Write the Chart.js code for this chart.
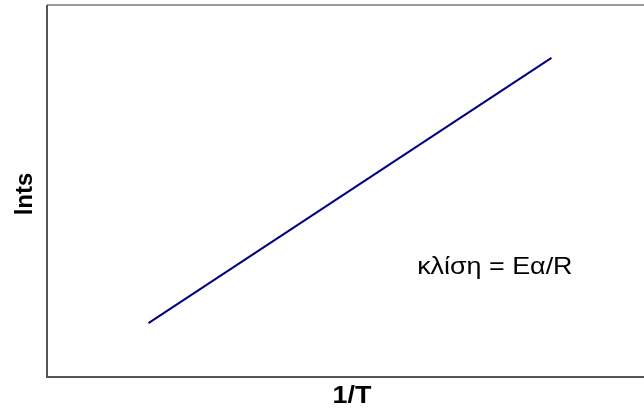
<!DOCTYPE html>
<html>
<head>
<meta charset="utf-8">
<script src="https://cdn.jsdelivr.net/npm/chart.js@4/dist/chart.umd.min.js"></script>
<style>
  html, body { margin: 0; padding: 0; background: #fff; overflow: hidden; }
  #wrap { width: 644px; height: 412px; }
</style>
</head>
<body>
<div id="wrap"><canvas id="chart"></canvas></div>
<script>
// ── Data (arbitrary units) ──
const lineX = [0.17, 0.845];
const lineY = [0.145, 0.858];
const xTitle = '1/T';
const yTitle = 'lnts';
const slopeNote = 'κλίση = Eα/R';

const FONT = 'Liberation Sans, Arial, sans-serif';
const STRETCH = 1.12; // the original text looks a bit wide

// frame + titles + note, drawn on top of the chart area
const framePlugin = {
    id: 'frame',
    afterDraw(chart) {
        const { ctx, chartArea: a } = chart;
        ctx.save();
        // top edge (lighter)
        ctx.strokeStyle = '#999';
        ctx.lineWidth = 2;
        ctx.beginPath();
        ctx.moveTo(a.left, a.top);
        ctx.lineTo(a.right, a.top);
        ctx.stroke();
        // left + bottom (darker)
        ctx.strokeStyle = '#555';
        ctx.beginPath();
        ctx.moveTo(a.left, a.top);
        ctx.lineTo(a.left, a.bottom);
        ctx.lineTo(a.right, a.bottom);
        ctx.stroke();
        ctx.restore();

        ctx.save();
        ctx.fillStyle = '#000';
        ctx.textAlign = 'center';
        ctx.textBaseline = 'middle';
        ctx.font = 'bold 24px ' + FONT;
        ctx.translate(352, 396);
        ctx.scale(STRETCH, 1);
        ctx.fillText(xTitle, 0, 0);
        ctx.restore();

        ctx.save();
        ctx.fillStyle = '#000';
        ctx.textAlign = 'center';
        ctx.textBaseline = 'middle';
        ctx.font = 'bold 24px ' + FONT;
        ctx.translate(25, 194);
        ctx.rotate(-Math.PI / 2);
        ctx.fillText(yTitle, 0, 0);
        ctx.restore();

        // annotation, positioned in data units
        const xs = chart.scales.x, ys = chart.scales.y;
        ctx.save();
        ctx.fillStyle = '#000';
        ctx.font = '24px ' + FONT;
        ctx.textAlign = 'left';
        ctx.textBaseline = 'middle';
        ctx.translate(xs.getPixelForValue(0.62), ys.getPixelForValue(0.295));
        ctx.scale(STRETCH, 1);
        ctx.fillText(slopeNote, 0, 0);
        ctx.restore();
    }
};

new Chart(document.getElementById('chart'), {
    type: 'scatter',
    data: {
        datasets: [{
            data: lineX.map((x, i) => ({ x, y: lineY[i] })),
            showLine: true,
            borderColor: '#000080',
            borderWidth: 2,
            pointRadius: 0,
            fill: false,
        }],
    },
    options: {
        responsive: true,
        maintainAspectRatio: false,
        animation: false,
        layout: { padding: { top: 5, right: 0, bottom: 0, left: 0 } },
        plugins: { legend: { display: false }, tooltip: { enabled: false } },
        scales: {
            x: {
                min: 0, max: 1,
                grid: { display: false, drawTicks: false },
                border: { display: false },
                ticks: { display: false },
                afterFit(s) { s.height = 35; },
            },
            y: {
                min: 0, max: 1,
                grid: { display: false, drawTicks: false },
                border: { display: false },
                ticks: { display: false },
                afterFit(s) { s.width = 47; },
            },
        },
    },
    plugins: [framePlugin],
});
</script>
</body>
</html>
